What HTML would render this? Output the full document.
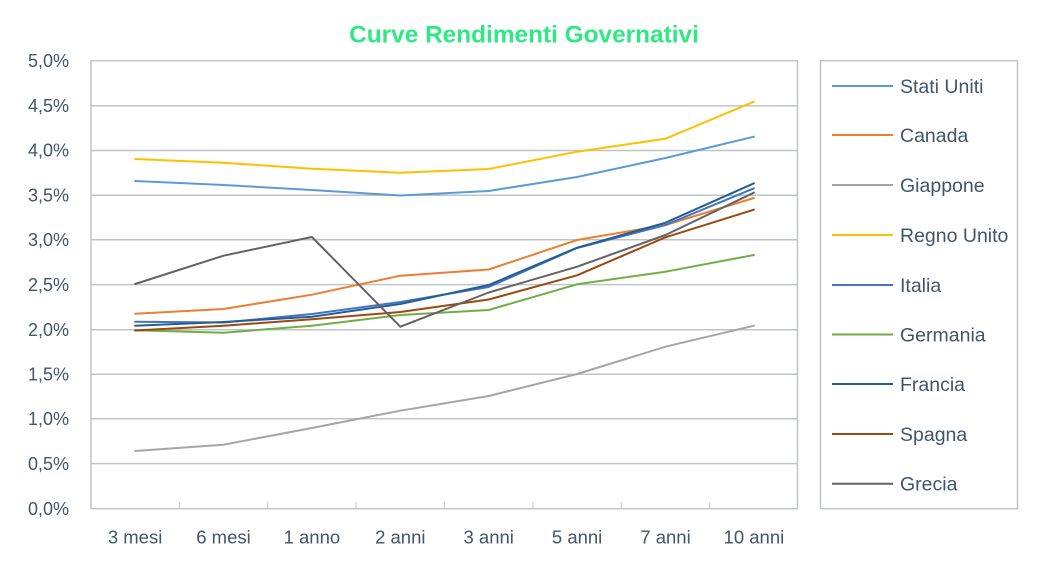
<!DOCTYPE html>
<html>
<head>
<meta charset="utf-8">
<style>
  html,body{margin:0;padding:0;background:#fff;}
  svg{display:block;}
  text{font-family:"Liberation Sans",sans-serif;fill:#44546A;}
</style>
</head>
<body>
<svg width="1043" height="575" viewBox="0 0 1043 575" xmlns="http://www.w3.org/2000/svg">
  <rect x="0" y="0" width="1043" height="575" fill="#fff"/>
  <!-- Title -->
  <text x="524" y="42.5" text-anchor="middle" font-size="24.4" font-weight="bold" style="fill:#2FE884">Curve Rendimenti Governativi</text>

  <!-- gridlines -->
  <g stroke="#BFC4C9" stroke-width="1.5" fill="none">
    <line x1="91" y1="105.9" x2="797.5" y2="105.9"/>
    <line x1="91" y1="150.5" x2="797.5" y2="150.5"/>
    <line x1="91" y1="195.2" x2="797.5" y2="195.2"/>
    <line x1="91" y1="239.8" x2="797.5" y2="239.8"/>
    <line x1="91" y1="284.6" x2="797.5" y2="284.6"/>
    <line x1="91" y1="329.8" x2="797.5" y2="329.8"/>
    <line x1="91" y1="374.2" x2="797.5" y2="374.2"/>
    <line x1="91" y1="418.8" x2="797.5" y2="418.8"/>
    <line x1="91" y1="463.6" x2="797.5" y2="463.6"/>
    <rect x="91" y="60.7" width="706.5" height="448"/>
  </g>
  <!-- ticks -->
  <g stroke="#CDD1D5" stroke-width="1.3">
    <line x1="179.4" y1="502" x2="179.4" y2="508.5"/>
    <line x1="267.7" y1="502" x2="267.7" y2="508.5"/>
    <line x1="356.1" y1="502" x2="356.1" y2="508.5"/>
    <line x1="444.5" y1="502" x2="444.5" y2="508.5"/>
    <line x1="532.9" y1="502" x2="532.9" y2="508.5"/>
    <line x1="621.3" y1="502" x2="621.3" y2="508.5"/>
    <line x1="709.7" y1="502" x2="709.7" y2="508.5"/>
  </g>

  <!-- y labels -->
  <g font-size="18" text-anchor="end">
    <text x="69" y="67">5,0%</text>
    <text x="69" y="112">4,5%</text>
    <text x="69" y="156.5">4,0%</text>
    <text x="69" y="201.5">3,5%</text>
    <text x="69" y="246">3,0%</text>
    <text x="69" y="291">2,5%</text>
    <text x="69" y="336">2,0%</text>
    <text x="69" y="380.5">1,5%</text>
    <text x="69" y="425">1,0%</text>
    <text x="69" y="470">0,5%</text>
    <text x="69" y="515">0,0%</text>
  </g>

  <!-- x labels -->
  <g font-size="18.5" text-anchor="middle">
    <text x="135.1" y="543.5">3 mesi</text>
    <text x="223.5" y="543.5">6 mesi</text>
    <text x="311.9" y="543.5">1 anno</text>
    <text x="400.3" y="543.5">2 anni</text>
    <text x="488.7" y="543.5">3 anni</text>
    <text x="577.1" y="543.5">5 anni</text>
    <text x="665.5" y="543.5">7 anni</text>
    <text x="753.9" y="543.5">10 anni</text>
  </g>

  <!-- series -->
  <g fill="none" stroke-width="2" stroke-linejoin="round" stroke-linecap="round">
    <!-- Stati Uniti -->
    <polyline stroke="#5B9BD5" points="135.1,181 223.5,185 311.9,190 400.3,195.5 488.7,191 577.1,177 665.5,158 753.9,136.7"/>
    <!-- Canada -->
    <polyline stroke="#ED7D31" points="135.1,313.7 223.5,309 311.9,294.7 400.3,275.7 488.7,269.5 577.1,240 665.5,225 753.9,198"/>
    <!-- Giappone -->
    <polyline stroke="#A5A5A5" points="135.1,451 223.5,444.7 311.9,428 400.3,410.7 488.7,396 577.1,374 665.5,346.7 753.9,325.7"/>
    <!-- Regno Unito -->
    <polyline stroke="#FFC000" points="135.1,159 223.5,162.7 311.9,168.7 400.3,172.7 488.7,169 577.1,151.7 665.5,138.7 753.9,101.7"/>
    <!-- Italia -->
    <polyline stroke="#4472C4" points="135.1,321.7 223.5,322.5 311.9,314 400.3,302 488.7,287 577.1,248 665.5,225 753.9,188.3"/>
    <!-- Germania -->
    <polyline stroke="#70AD47" points="135.1,330.3 223.5,332.7 311.9,325.7 400.3,315 488.7,310 577.1,284.3 665.5,271.7 753.9,255"/>
    <!-- Francia -->
    <polyline stroke="#255E91" points="135.1,325.7 223.5,322 311.9,316.7 400.3,304 488.7,285 577.1,247.7 665.5,222.7 753.9,183.3"/>
    <!-- Spagna -->
    <polyline stroke="#9E480E" points="135.1,330.5 223.5,325.7 311.9,319.3 400.3,312 488.7,299.5 577.1,275.3 665.5,237.3 753.9,209.7"/>
    <!-- Grecia -->
    <polyline stroke="#636363" points="135.1,284 223.5,255.7 311.9,237 400.3,326.7 488.7,292.5 577.1,266.7 665.5,235 753.9,192.7"/>
  </g>

  <!-- legend -->
  <rect x="820.5" y="60.7" width="197" height="448" fill="#fff" stroke="#BFC4C9" stroke-width="1.5"/>
  <g stroke-width="2">
    <line x1="832" y1="86" x2="893" y2="86" stroke="#5B9BD5"/>
    <line x1="832" y1="135" x2="893" y2="135" stroke="#ED7D31"/>
    <line x1="832" y1="185" x2="893" y2="185" stroke="#A5A5A5"/>
    <line x1="832" y1="235" x2="893" y2="235" stroke="#FFC000"/>
    <line x1="832" y1="285" x2="893" y2="285" stroke="#4472C4"/>
    <line x1="832" y1="334.5" x2="893" y2="334.5" stroke="#70AD47"/>
    <line x1="832" y1="384" x2="893" y2="384" stroke="#255E91"/>
    <line x1="832" y1="434" x2="893" y2="434" stroke="#9E480E"/>
    <line x1="832" y1="483.7" x2="893" y2="483.7" stroke="#636363"/>
  </g>
  <g font-size="19.5">
    <text x="900" y="93">Stati Uniti</text>
    <text x="900" y="142">Canada</text>
    <text x="900" y="192">Giappone</text>
    <text x="900" y="242">Regno Unito</text>
    <text x="900" y="292">Italia</text>
    <text x="900" y="341.5">Germania</text>
    <text x="900" y="391">Francia</text>
    <text x="900" y="441">Spagna</text>
    <text x="900" y="490.5">Grecia</text>
  </g>
</svg>
</body>
</html>
